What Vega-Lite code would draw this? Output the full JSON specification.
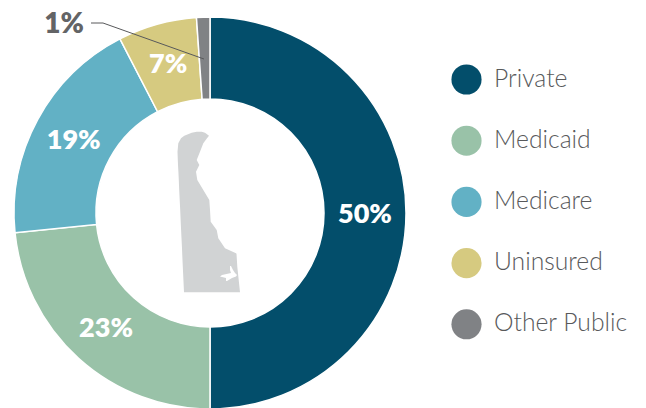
{
"$schema":"https://vega.github.io/schema/vega-lite/v6.json",
"width":646,"height":408,"padding":0,"autosize":{"type":"none"},
"background":"white",
"view":{"stroke":null},
"config":{"font":"Lato"},
"datasets":{
"shares":[
{"cat":"Private","value":50,"rank":1,"label":"50%"},
{"cat":"Medicaid","value":23.4,"rank":2,"label":"23%"},
{"cat":"Medicare","value":19,"rank":3,"label":"19%"},
{"cat":"Uninsured","value":6.5,"rank":4,"label":"7%"},
{"cat":"Other Public","value":1.1,"rank":5,"label":""}
],
"state":[
{"py":131.7,"xl":196.7,"xr":201.7},{"py":132.7,"xl":191.7,"xr":205},{"py":135.7,"xl":184.3,"xr":209},{"py":138.3,"xl":181,"xr":207},{"py":143.3,"xl":178.3,"xr":203.3},{"py":151.7,"xl":177.5,"xr":200},{"py":160,"xl":177.8,"xr":196.7},{"py":165,"xl":178,"xr":199.3},{"py":171.7,"xl":178.4,"xr":196},{"py":180,"xl":178.8,"xr":197.3},{"py":190,"xl":179.2,"xr":203.3},{"py":200,"xl":179.7,"xr":209.3},{"py":210,"xl":180.2,"xr":210},{"py":221.7,"xl":180.7,"xr":210.7},{"py":230,"xl":181.1,"xr":216.7},{"py":238.3,"xl":181.5,"xr":218.3},{"py":248.3,"xl":182,"xr":225},{"py":253.3,"xl":182.2,"xr":236},{"py":253.7,"xl":182.2,"xr":236.5},{"py":266.7,"xl":182.8,"xr":237.3},{"py":292.3,"xl":184,"xr":240}
],
"inlet":[
{"py":266,"xl":230,"xr":231},{"py":270,"xl":230,"xr":233},{"py":273,"xl":231,"xr":235},{"py":275,"xl":222,"xr":237},{"py":276.5,"xl":220,"xr":236},{"py":278,"xl":226,"xr":232},{"py":281,"xl":226,"xr":227}
],
"leader":[{"px":91,"py":23,"o":1},{"px":103,"py":23,"o":2},{"px":204,"py":59,"o":3}],
"callout":[{"px":64,"py":25,"label":"1%"}]
},
"layer":[
{"data":{"name":"shares"},
"mark":{"type":"arc","outerRadius":196,"innerRadius":114,"stroke":"white","strokeWidth":1.5},
"encoding":{
"x":{"datum":210,"type":"quantitative","scale":{"domain":[0,646],"nice":false,"zero":false},"axis":null},
"y":{"datum":213,"type":"quantitative","scale":{"domain":[408,0],"nice":false,"zero":false},"axis":null},
"theta":{"field":"value","type":"quantitative","stack":true,"scale":{"domain":[0,100],"range":[0,6.28319]}},
"order":{"field":"rank"},
"color":{"field":"cat","type":"nominal",
"sort":["Private","Medicaid","Medicare","Uninsured","Other Public"],
"scale":{"domain":["Private","Medicaid","Medicare","Uninsured","Other Public"],"range":["#034e6b","#99c2a8","#62b1c5","#d6ca80","#808285"]},
"legend":{"title":null,"orient":"none","legendX":451,"legendY":64,"symbolType":"circle","symbolSize":908,"symbolStrokeWidth":0,"symbolOpacity":1,"labelFont":"Lato","labelFontSize":24.7,"labelFontWeight":300,"labelColor":"#58595b","labelOffset":12,"rowPadding":30.2,"labelLimit":200}}
}},
{"data":{"name":"shares"},
"mark":{"type":"text","radius":155,"dy":1.5,"font":"Lato","fontWeight":800,"fontSize":27,"color":"white","align":"center","baseline":"middle"},
"encoding":{
"x":{"datum":210,"type":"quantitative"},
"y":{"datum":213,"type":"quantitative"},
"theta":{"field":"value","type":"quantitative","stack":true},
"order":{"field":"rank"},
"detail":{"field":"cat"},
"text":{"field":"label"}
}},
{"data":{"name":"state"},
"mark":{"type":"area","orient":"horizontal","color":"#d1d3d4"},
"encoding":{
"y":{"field":"py","type":"quantitative"},
"x":{"field":"xl","type":"quantitative"},
"x2":{"field":"xr"}
}},
{"data":{"name":"inlet"},
"mark":{"type":"area","orient":"horizontal","color":"white"},
"encoding":{
"y":{"field":"py","type":"quantitative"},
"x":{"field":"xl","type":"quantitative"},
"x2":{"field":"xr"}
}},
{"data":{"name":"leader"},
"mark":{"type":"line","color":"#58595b","strokeWidth":1},
"encoding":{
"x":{"field":"px","type":"quantitative"},
"y":{"field":"py","type":"quantitative"},
"order":{"field":"o"}
}},
{"data":{"name":"callout"},
"mark":{"type":"text","font":"Lato","fontWeight":800,"fontSize":28,"color":"#636466","align":"center","baseline":"middle"},
"encoding":{
"x":{"field":"px","type":"quantitative"},
"y":{"field":"py","type":"quantitative"},
"text":{"field":"label"}
}}
]
}
